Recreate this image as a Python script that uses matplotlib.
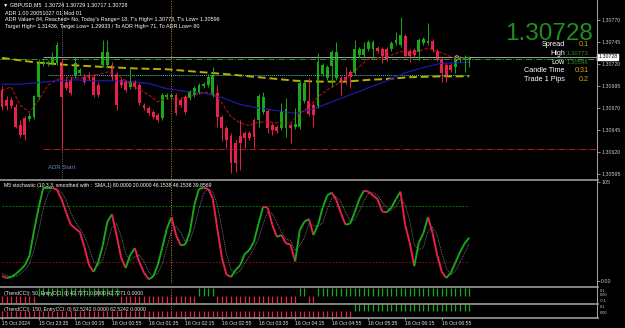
import numpy as np
import matplotlib.pyplot as plt
from matplotlib.lines import Line2D
from matplotlib.collections import LineCollection

plt.rcParams['font.family'] = ['Liberation Sans', 'DejaVu Sans']

# GBPUSD M5 candles, prices in points above 1.30000
opens_pt = [690, 679, 679, 671, 651, 659, 658, 660, 683, 720,
            720, 721, 721, 722, 700, 702, 708, 710, 705, 708,
            705, 696, 719, 719, 719, 708, 702, 700, 694, 700,
            696, 673, 670, 665, 662, 659, 683, 683, 685, 679,
            683, 681, 685, 688, 695, 696, 685, 687, 660, 647,
            638, 630, 638, 642, 642, 656, 656, 665, 667, 651,
            648, 647, 647, 651, 648, 648, 678, 678, 673, 672,
            709, 704, 718, 704, 704, 705, 711, 710, 730, 730,
            737, 737, 738, 737, 737, 737, 744, 742, 752, 735,
            736, 734, 744, 744, 746, 735, 726, 719, 719, 717,
            725, 725, 724]
highs_pt = [695, 684, 683, 675, 656, 661, 664, 685, 725, 725,
            725, 734, 745, 727, 704, 705, 728, 715, 709, 711,
            709, 700, 747, 747, 722, 711, 704, 702, 717, 702,
            698, 676, 672, 668, 664, 687, 687, 687, 687, 681,
            685, 690, 695, 698, 700, 709, 717, 696, 662, 650,
            642, 634, 656, 644, 644, 659, 686, 688, 669, 653,
            651, 676, 681, 653, 670, 701, 702, 704, 676, 733,
            721, 719, 736, 745, 706, 717, 713, 747, 739, 745,
            747, 747, 741, 739, 739, 746, 756, 773, 754, 737,
            738, 750, 751, 767, 748, 737, 728, 721, 721, 727,
            729, 730, 729]
lows_pt = [668, 668, 670, 647, 637, 634, 655, 658, 680, 718,
           718, 719, 719, 622, 690, 685, 704, 708, 697, 702,
           683, 683, 717, 717, 702, 668, 694, 688, 692, 692,
           673, 668, 662, 658, 654, 656, 680, 680, 662, 671,
           663, 679, 683, 686, 693, 694, 683, 648, 633, 625,
           596, 597, 600, 625, 634, 625, 648, 663, 642, 639,
           642, 645, 637, 630, 646, 646, 676, 661, 648, 670,
           706, 702, 694, 702, 685, 697, 693, 708, 728, 728,
           735, 728, 733, 721, 723, 735, 742, 739, 727, 722,
           728, 725, 742, 742, 734, 723, 700, 700, 711, 710,
           722, 711, 717]
closes_pt = [671, 672, 672, 648, 639, 639, 661, 684, 721, 722,
             722, 728, 742, 683, 693, 687, 721, 713, 700, 704,
             685, 685, 734, 734, 705, 673, 696, 690, 700, 694,
             676, 670, 664, 660, 656, 685, 685, 685, 664, 673,
             665, 688, 693, 696, 697, 705, 708, 660, 647, 634,
             608, 608, 630, 636, 636, 637, 684, 683, 647, 645,
             644, 667, 669, 647, 652, 698, 698, 663, 662, 722,
             719, 717, 734, 734, 698, 700, 705, 737, 737, 737,
             745, 745, 735, 729, 726, 744, 747, 753, 729, 729,
             730, 747, 748, 746, 736, 726, 710, 708, 713, 725,
             727, 728, 728]

# moving averages (bar index, points)
blue_bars = [0, 4, 8, 12, 16, 20, 24, 28, 32, 36, 40, 44, 48, 52, 56, 60, 64,
             68, 72, 76, 80, 84, 88, 92, 96, 102]
blue_pts = [697, 697, 699, 701, 702, 701, 701, 700, 698, 692, 689, 687, 682,
            674, 670, 667, 664, 669, 677, 685, 693, 701, 710, 716, 721, 722]
red_bars = [0, 2, 4, 6, 8, 10, 13, 17, 21, 23, 25, 29, 32, 34, 36, 38, 41, 44,
            46, 48, 50, 52, 54, 56, 58, 61, 63, 65, 67, 69, 72, 75, 78, 80, 84,
            87, 90, 93, 95, 96, 98, 99, 102]
red_pts = [690, 694, 673, 665, 679, 696, 705, 704, 708, 711, 708, 694, 685,
           677, 681, 680, 683, 688, 687, 676, 660, 653, 650, 654, 654, 653,
           653, 664, 671, 683, 694, 702, 717, 726, 728, 734, 733, 738, 734,
           733, 728, 727, 727]
yellow_bars = [0, 7, 14, 21, 29, 36, 43, 50, 58, 64, 69, 75, 80, 84, 89, 96, 102]
yellow_pts = [727, 722, 719, 717, 715, 714, 711, 708, 704, 701, 700, 700, 702,
              703, 705, 706, 706]

# stochastic (10,3,3) main and signal
stoch_main = [5.5, 3.4, 4.5, 7.6, 12, 17, 27, 54, 78, 99,
              99, 99, 97, 87, 73, 60, 56, 52, 36, 17,
              10, 20, 38, 63, 71, 49, 25, 14, 28, 35,
              20, 9, 2, 5, 17, 36, 56, 68, 49, 38,
              39, 52, 81, 98, 99, 98, 88, 56, 25, 7,
              4.5, 12, 17, 29, 33, 42, 61, 79, 78, 60,
              47, 49, 40, 39, 21, 54, 63, 66, 49, 60,
              78, 91, 94, 86, 72, 60, 61, 73, 87, 96,
              95, 91, 87, 74, 73, 78, 87, 95, 60, 41,
              16, 41, 51, 68, 51, 28, 10, 3.4, 9, 20,
              31, 40, 46.15]
stoch_signal = [8, 6, 4.5, 5, 8, 12, 19, 33, 53, 77,
                92, 99, 98, 94, 86, 73, 63, 56, 48, 35,
                21, 16, 23, 40, 57, 61, 48, 29, 22, 26,
                28, 21, 10, 5, 8, 19, 36, 53, 58, 52,
                42, 43, 57, 77, 93, 98, 95, 81, 56, 29,
                12, 8, 11, 19, 26, 35, 45, 61, 73, 72,
                62, 52, 45, 43, 33, 38, 46, 61, 59, 58,
                62, 76, 88, 90, 84, 73, 64, 65, 74, 85,
                93, 94, 91, 84, 78, 75, 79, 87, 81, 65,
                39, 33, 36, 53, 57, 49, 30, 14, 7, 11,
                20, 30, 39.86]

# TrendCCI histogram direction, as (sign, number of bars)
cci50_runs = [(-1, 8), (1, 18), (-1, 17), (1, 4), (-1, 18), (1, 2), (-1, 2), (1, 34)]
cci150_runs = [(-1, 77), (1, 26)]

tick_bars = [0, 8, 16, 24, 32, 40, 48, 56, 64, 72, 80, 88, 96]
tick_labels = ['15 Oct 2024', '15 Oct 23:35', '16 Oct 00:15', '16 Oct 00:55',
               '16 Oct 01:35', '16 Oct 02:15', '16 Oct 02:55', '16 Oct 03:35',
               '16 Oct 04:15', '16 Oct 04:55', '16 Oct 05:35', '16 Oct 06:15',
               '16 Oct 06:55']

def to_price(pts):
    return 1.3 + np.asarray(pts, dtype=float) / 1e5

o, h, l, c = (to_price(v) for v in (opens_pt, highs_pt, lows_pt, closes_pt))
bars = np.arange(len(c))

GREEN = '#18a818'
RED = '#e8214c'
AXC = '#c8c8c8'

W, H = 625, 328
fig = plt.figure(figsize=(W / 100, H / 100), dpi=100, facecolor='black')


def px(x, y):
    return x / W, 1 - y / H


def panel(top, bottom):
    ax = fig.add_axes([0, 1 - bottom / H, 597 / W, (bottom - top) / H], facecolor='black')
    for s in ax.spines.values():
        s.set_visible(False)
    ax.set_xlim(-0.44, 129.9)
    ax.tick_params(axis='x', bottom=False, labelbottom=False)
    ax.yaxis.tick_right()
    ax.tick_params(axis='y', colors=AXC, labelsize=3.8, length=2, width=0.5, pad=1)
    ax.axvline(37, color='#c8841c', lw=0.6, ls=(0, (1.5, 1.5)))
    return ax


# ---- main price panel ----
ax = panel(0, 179)
ax.set_ylim(1.305894, 1.307927)
yt = 1.30595 + 0.00025 * np.arange(8)
ax.set_yticks(yt)
ax.set_yticklabels(['%.5f' % v for v in yt])

ax.axvline(13, color='#7f8c99', lw=0.6, ls=':')
ax.text(13, 1.30602, 'ADR Start', color='#6d8bab', fontsize=4.3, ha='center', va='center')

ax.axhline(1.307254, color='#2a9a2a', lw=0.7, ls='-.')
ax.hlines(1.30728, 9, 130, color='#a0a0a0', lw=0.7)
ax.hlines(1.306235, 9, 130, color='#c01818', lw=0.7, ls='-.')
ax.hlines(1.307072, 10, 102, color='#40c0c0', lw=0.7, ls=(0, (1, 1)))

ax.plot(yellow_bars, to_price(yellow_pts), color='#b8b000', lw=1.4, ls=(0, (4, 2)))
ax.plot(blue_bars, to_price(blue_pts), color='#1a1aa8', lw=0.9)
ax.plot(red_bars, to_price(red_pts), color='#b01010', lw=0.8, ls=(0, (3, 1.5)))

colors = np.where(c >= o, GREEN, RED)
ax.vlines(bars, l, h, colors=colors, lw=0.7)
ax.bar(bars, np.maximum(np.abs(c - o), 0.000015), bottom=np.minimum(o, c),
       width=0.62, color=colors, linewidth=0)
ax.scatter([99.3], [1.30727], s=9, facecolors='none', edgecolors='#d8d8d8', linewidths=0.6)

ax.text(1.002, 1.30728, '1.30728', transform=ax.get_yaxis_transform(), fontsize=3.8,
        color='black', va='center', ha='left',
        bbox=dict(facecolor='white', edgecolor='white', pad=0.6))

# ---- stochastic ----
ax_s = panel(181, 283)
ax_s.set_ylim(-1.9, 106.3)
ax_s.set_yticks([0, 105])
ax_s.set_yticklabels(['0.00', '105'])
ax_s.hlines(80, 0, bars[-1], color='#1a8c1a', lw=0.6, ls=(0, (2, 2)))
ax_s.hlines(20, 0, bars[-1], color='#a01010', lw=0.6, ls=(0, (2, 2)))
ax_s.plot(bars, stoch_signal, color='#909090', lw=0.6, ls=(0, (1, 1.2)))
sm = np.array(stoch_main)
segs = [[(i - 1, sm[i - 1]), (i, sm[i])] for i in range(1, len(sm))]
seg_cols = [GREEN if sm[i] >= sm[i - 1] else RED for i in range(1, len(sm))]
ax_s.add_collection(LineCollection(segs, colors=seg_cols, linewidths=1.4))

# ---- TrendCCI panels ----
def cci_panel(top, bottom, runs, label, label_y, ticks):
    axc = panel(top, bottom)
    axc.set_ylim(-1, 1)
    signs = np.concatenate([[s] * n for s, n in runs])
    axc.vlines(bars, 0, signs * 0.95, colors=np.where(signs > 0, GREEN, RED), lw=0.9)
    axc.set_yticks(ticks)
    axc.set_yticklabels(['0.1', '0.00', '-0.1'][:len(ticks)])
    axc.tick_params(axis='y', length=0, labelsize=2.9, pad=2)
    axc.text(0.006, label_y, label, transform=axc.transAxes, color='#e8e8e8', fontsize=3.7,
             va='center', ha='left')
    return axc

cci_panel(288, 303, cci50_runs,
          '(TrendCCI): 50, EntryCCI: 0) 42.7271 0.0000 42.7271 0.0000', 0.66,
          [0.73, 0.07, -0.6])
ax_c2 = cci_panel(304, 317, cci150_runs,
                  '(TrendCCI): 150, EntryCCI: 0) 62.5242 0.0000 62.5242 0.0000', 0.57,
                  [0.54, -0.25])
ax_c2.set_xticks(tick_bars)
ax_c2.set_xticklabels(tick_labels, ha='left')
ax_c2.tick_params(axis='x', bottom=True, labelbottom=True, length=2, width=0.5, color=AXC,
                  labelcolor='#e0e0e0', labelsize=3.7, pad=1.2)

# panel separators and price scale border
for y in (180, 286.5, 303.5, 317.5):
    fig.add_artist(Line2D([0, 598 / W], [1 - y / H] * 2, color='#9a9a9a', lw=1.2))
fig.add_artist(Line2D([597 / W] * 2, [1 - 318 / H, 1], color='#a8a8a8', lw=0.7))

# ---- overlay texts ----
fig.text(*px(3, 5), '\u25bc GBPUSD,M5  1.30724 1.30729 1.30717 1.30728',
         color='white', fontsize=3.9, va='center')
fig.text(*px(5, 13.5), 'ADR 1.00 20051027 01 Mod 01', color='white', fontsize=3.9, va='center')
fig.text(*px(5, 20), "ADR Value= 84, Reached= No, Today's Range= 18, T's High= 1.30773, "
         "T's Low= 1.30596", color='white', fontsize=3.9, va='center')
fig.text(*px(5, 26.5), 'Target High= 1.31436, Target Low= 1.29933 / To ADR High= 71, '
         'To ADR Low= 80', color='white', fontsize=3.9, va='center')
fig.text(*px(4, 186), 'M5 stochastic (10,3,3, smoothed with :  SMA,1) 80.0000 20.0000 '
         '46.1538 46.1538 39.8569', color='white', fontsize=3.7, va='center')

fig.text(*px(593, 39.5), '1.30728', color='#1f8f1f', fontsize=17.5, ha='right',
         va='baseline')
info = [('Spread', '0.1', '#e0a800', 45), ('Candle Time', '0:31', '#e0a800', 71),
        ('Trade 1 Pips', '0.2', '#e0a800', 79.5)]
for name, val, col, y in info:
    fig.text(*px(565, y), name, color='white', fontsize=5.2, ha='right', va='center')
    fig.text(*px(589, y), val, color=col, fontsize=5.2, ha='right', va='center')
for name, val, y in [('High', '1.30773', 53.5), ('Low', '1.30596', 62)]:
    fig.text(*px(565, y), name, color='white', fontsize=5.2, ha='right', va='center')
    fig.text(*px(566.5, y), val, color='#2d8f2d', fontsize=4.3, ha='left', va='center')

fig.savefig('out.png', dpi=100, facecolor='black')
